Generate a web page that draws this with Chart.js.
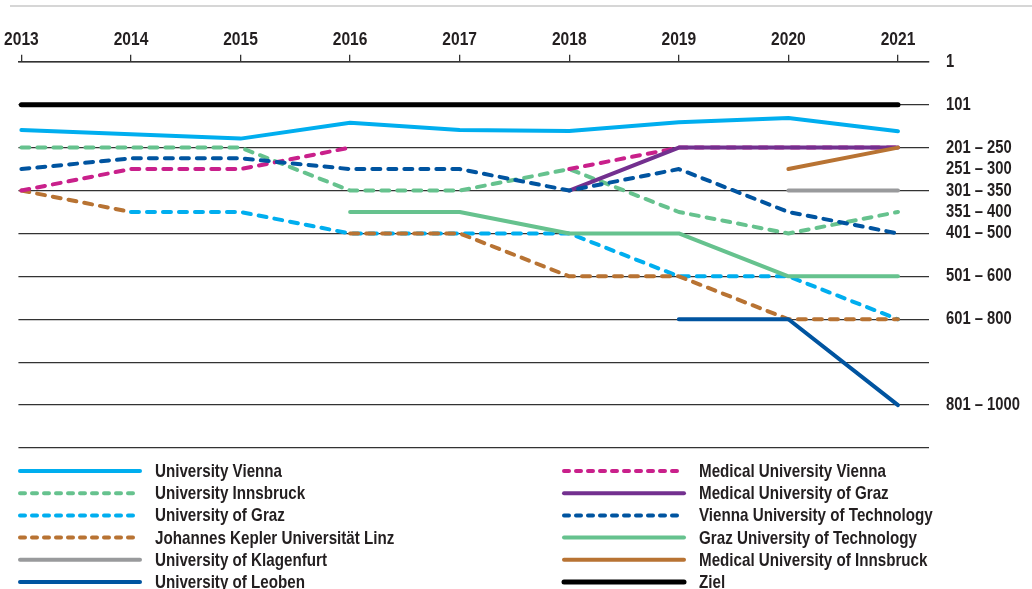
<!DOCTYPE html>
<html>
<head>
<meta charset="utf-8">
<script src="https://cdn.jsdelivr.net/npm/chart.js@4"></script>
<style>
  html, body { margin: 0; padding: 0; background: #fff; }
  #wrap { width: 1032px; height: 589px; }
</style>
</head>
<body>
<div id="wrap"><canvas id="ranking" width="1032" height="589"></canvas></div>
<script>
var years = [2013, 2014, 2015, 2016, 2017, 2018, 2019, 2020, 2021];

// rank axis: ticks, their labels, and ticks without a grid line
var tickValues = [1, 101, 201, 251, 301, 351, 401, 501, 601, 701, 801, 901];
var tickLabels = ['1', '101', '201 – 250', '251 – 300', '301 – 350', '351 – 400',
                  '401 – 500', '501 – 600', '601 – 800', '', '801 – 1000', ''];
var noGridTicks = [251, 351];

var uniVienna      = [160, 170, 180, 143, 160, 162, 142, 132, 163];
var uniInnsbruck   = [201, 201, 201, 301, 301, 251, 351, 401, 351];
var uniGraz        = [null, 351, 351, 401, 401, 401, 501, 501, 601];
var jkuLinz        = [301, 351, null, 401, 401, 501, 501, 601, 601];
var uniKlagenfurt  = [null, null, null, null, null, null, null, 301, 301];
var uniLeoben      = [null, null, null, null, null, null, 601, 601, 801];
var medVienna      = [301, 251, 251, 201, null, 251, 201, 201, 201];
var medGraz        = [null, null, null, null, null, 301, 201, 201, 201];
var tuVienna       = [251, 226, 226, 251, 251, 301, 251, 351, 401];
var tuGraz         = [null, null, null, 351, 351, 401, 401, 501, 501];
var medInnsbruck   = [null, null, null, null, null, null, null, 251, 201];
var ziel           = [101, 101, 101, 101, 101, 101, 101, 101, 101];

var FONT = '"Liberation Sans", Arial, sans-serif';
var TEXT = '#231f20';
var NARROW = 0.82; // no Arial Narrow here, so squeeze Arial-metric text

function points(values) {
  return years.map(function(y, i) { return { x: y, y: values[i] }; });
}

function series(label, values, color, dashed, width) {
  return {
    label: label,
    data: points(values),
    borderColor: color,
    backgroundColor: color,
    borderWidth: width || 4,
    borderDash: dashed ? [8, 8] : [],
    borderCapStyle: 'round',
    borderJoinStyle: 'round',
    pointRadius: 0,
    tension: 0,
    spanGaps: false
  };
}

var datasets = [
  series('University Vienna', uniVienna, '#00aeef', false),
  series('University Innsbruck', uniInnsbruck, '#66c28e', true),
  series('University of Graz', uniGraz, '#00aeef', true),
  series('Johannes Kepler Universität Linz', jkuLinz, '#b87333', true),
  series('University of Klagenfurt', uniKlagenfurt, '#999a9c', false),
  series('University of Leoben', uniLeoben, '#0054a0', false),
  series('Medical University Vienna', medVienna, '#c9208b', true),
  series('Medical University of Graz', medGraz, '#73308f', false),
  series('Vienna University of Technology', tuVienna, '#0054a0', true),
  series('Graz University of Technology', tuGraz, '#66c28e', false),
  series('Medical University of Innsbruck', medInnsbruck, '#b87333', false),
  series('Ziel', ziel, '#000000', false, 5)
];
// later series are painted over earlier ones
datasets.forEach(function(d, i) { d.order = datasets.length - i; });

function narrowText(ctx, factor) {
  var fill = ctx.fillText;
  var measure = ctx.measureText;
  ctx.fillText = function(text, x, y) {
    this.save();
    this.translate(x, y);
    this.scale(factor, 1);
    fill.call(this, text, 0, 0);
    this.restore();
  };
  ctx.measureText = function(text) {
    var m = measure.call(this, text);
    return {
      width: m.width * factor,
      actualBoundingBoxAscent: m.actualBoundingBoxAscent,
      actualBoundingBoxDescent: m.actualBoundingBoxDescent
    };
  };
}

var decorations = {
  id: 'decorations',
  beforeDraw: function(chart) {
    var ctx = chart.ctx;
    ctx.save();
    ctx.strokeStyle = '#c8c8c8';
    ctx.lineWidth = 1.5;
    ctx.beginPath();
    ctx.moveTo(10, 6);
    ctx.lineTo(chart.width, 6);
    ctx.stroke();
    ctx.restore();
  },
  afterDraw: function(chart) {
    var ctx = chart.ctx;
    ctx.save();
    ctx.font = 'bold 18.5px ' + FONT;
    ctx.textBaseline = 'middle';
    ctx.textAlign = 'left';
    ctx.fillStyle = TEXT;
    chart.data.datasets.forEach(function(d, i) {
      var col = i < 6 ? 0 : 1;
      var row = i % 6;
      var x = col === 0 ? 20 : 564;
      var y = 471 + row * 22.2;
      ctx.strokeStyle = d.borderColor;
      ctx.lineWidth = d.borderWidth;
      ctx.lineCap = 'round';
      ctx.setLineDash(d.borderDash.length ? [5, 7] : []);
      ctx.beginPath();
      ctx.moveTo(x, y);
      ctx.lineTo(x + 120, y);
      ctx.stroke();
      ctx.fillText(d.label, x + 135, y + 1);
    });
    ctx.restore();
  }
};

function init() {
  var ctx = document.getElementById('ranking').getContext('2d');
  narrowText(ctx, NARROW);
  new Chart(ctx, {
    type: 'line',
    data: { datasets: datasets },
    plugins: [decorations],
    options: {
      responsive: false,
      animation: false,
      layout: { padding: { top: 24, left: 18, right: 0, bottom: 141 } },
      plugins: { legend: { display: false }, tooltip: { enabled: false } },
      scales: {
        x: {
          type: 'linear',
          position: 'top',
          min: 2012.973,
          max: 2021.283,
          afterBuildTicks: function(scale) {
            scale.ticks = years.map(function(y) { return { value: y }; });
          },
          ticks: {
            color: TEXT,
            padding: 4,
            font: { family: FONT, size: 19, weight: 'bold' },
            callback: function(v) { return String(v); }
          },
          grid: { drawOnChartArea: false, drawTicks: true, tickLength: 7, color: '#333', lineWidth: 1.3 },
          border: { display: true, color: '#333', width: 1.5 }
        },
        y: {
          type: 'linear',
          position: 'right',
          reverse: true,
          min: 1,
          max: 901,
          afterBuildTicks: function(scale) {
            scale.ticks = tickValues.map(function(v) { return { value: v }; });
          },
          afterFit: function(scale) { scale.width = 103; },
          ticks: {
            color: TEXT,
            padding: 17,
            crossAlign: 'near',
            font: { family: FONT, size: 18, weight: 'bold' },
            callback: function(v) {
              var i = tickValues.indexOf(v);
              return i >= 0 ? tickLabels[i] : '';
            }
          },
          grid: {
            drawTicks: false,
            lineWidth: 1.3,
            color: function(c) {
              return c.tick && noGridTicks.indexOf(c.tick.value) >= 0 ? 'rgba(0,0,0,0)' : '#333';
            }
          },
          border: { display: false }
        }
      }
    }
  });
}

init();
</script>
</body>
</html>
